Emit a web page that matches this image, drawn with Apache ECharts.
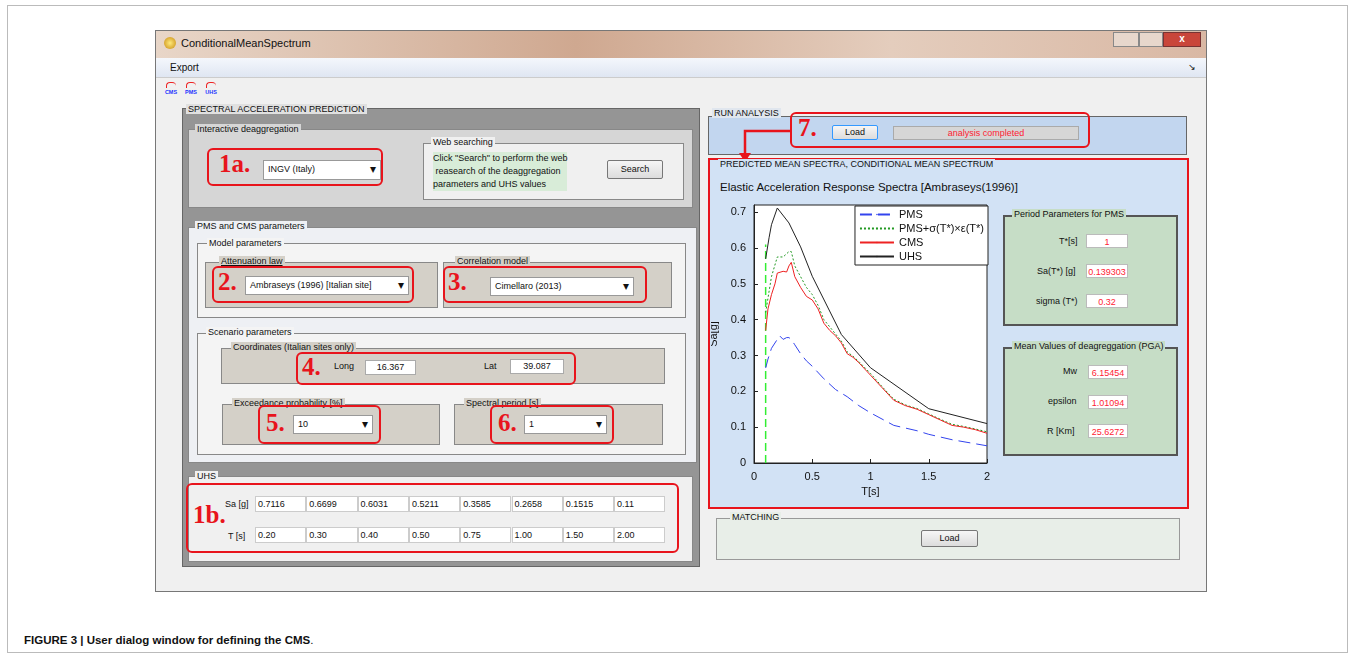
<!DOCTYPE html>
<html lang="en">
<head>
<meta charset="UTF-8">
<title>ConditionalMeanSpectrum</title>
<script src="https://cdn.jsdelivr.net/npm/echarts@6/dist/echarts.min.js"></script>
<style>
  body { margin:0; width:1356px; height:660px; background:#fff; font-family:"Liberation Sans", Arial, sans-serif; font-size:9px; color:#111; position:relative; overflow:hidden; }
  .a { position:absolute; box-sizing:border-box; }
  .grp { border:1px solid #888; }
  .red { border:2.5px solid #e8141c; border-radius:6px; }
  .num { font-family:"Liberation Serif", serif; font-weight:bold; font-size:25px; color:#e8141c; position:absolute; }
  .sel { background:#fff; border:1px solid #999; font-size:9px; padding:3px 4px; }
  .sel:after { content:"\25BE"; position:absolute; right:4px; top:1px; font-size:12px; }
  .btn { background:linear-gradient(#f6f6f6,#dcdcdc); border:1px solid #777; border-radius:2px; text-align:center; font-size:9px; }
  .inp { background:#fff; border:1px solid #aaa; text-align:center; font-size:9px; line-height:13px; }
  .rin { background:#fff; border:1px solid #bbb; color:#f23; text-align:center; font-size:9px; line-height:14px; }
  .ico { position:absolute; top:80px; width:14px; height:16px; font-size:5.5px; font-weight:bold; color:#23f; text-align:center; line-height:24px; }
  .ico:before { content:""; position:absolute; left:2px; top:2px; width:9px; height:5px; border-top:1.5px solid #e22; border-left:1px solid #e22; border-radius:4px 4px 0 0; }
</style>
</head>
<body>
<div class="a" style="left:7px;top:5px;width:1341px;height:648px;border:1px solid #bbb;"></div>

<!-- window -->
<div class="a" style="left:155px;top:30px;width:1052px;height:562px;background:#f0f0f0;border:1px solid #777;"></div>
<div class="a" style="left:156px;top:31px;width:1050px;height:27px;background:linear-gradient(90deg,#e8d6c8,#cfa890 40%,#e4cdbd 70%,#d9b8a4);"></div>
<div class="a" style="left:164px;top:37px;width:12px;height:12px;border-radius:6px;background:radial-gradient(#ffe97a,#c78a10);"></div>
<div class="a" style="left:181px;top:37px;font-size:11px;">ConditionalMeanSpectrum</div>
<div class="a" style="left:1113px;top:32px;width:26px;height:15px;background:#e7d7cc;border:1px solid #888;"></div>
<div class="a" style="left:1139px;top:32px;width:24px;height:15px;background:#e7d7cc;border:1px solid #888;"></div>
<div class="a" style="left:1163px;top:32px;width:38px;height:15px;background:#c9463a;border:1px solid #733;color:#fff;text-align:center;font-weight:bold;font-size:10px;">x</div>
<div class="a" style="left:156px;top:58px;width:1050px;height:20px;background:linear-gradient(#f4f7fc,#dfe6f2);border-bottom:1px solid #ccc;"></div>
<div class="a" style="left:170px;top:62px;font-size:10px;">Export</div>
<div class="a" style="left:1188px;top:62px;font-size:9px;">&#8600;</div>
<div class="ico" style="left:164px;">CMS</div>
<div class="ico" style="left:184px;">PMS</div>
<div class="ico" style="left:204px;">UHS</div>

<!-- left panel -->
<div class="a" style="left:182px;top:108px;width:518px;height:459px;background:#959595;border:1px solid #666;"></div>
<div class="a" style="left:186px;top:104px;background:#e0e0e0;font-size:9px;padding:0 2px;">SPECTRAL ACCELERATION PREDICTION</div>

<div class="a grp" style="left:188px;top:129px;width:505px;height:79px;background:#d6d6d6;"></div>
<div class="a" style="left:195px;top:124px;background:#d6d6d6;padding:0 2px;">Interactive deaggregation</div>
<div class="a red" style="left:207px;top:148px;width:176px;height:38px;"></div>
<div class="num" style="left:219px;top:150px;">1a.</div>
<div class="a sel" style="left:263px;top:160px;width:118px;height:20px;">INGV (Italy)</div>
<div class="a grp" style="left:423px;top:143px;width:261px;height:57px;background:#f0f0f0;"></div>
<div class="a" style="left:431px;top:137px;background:#f0f0f0;padding:0 2px;">Web searching</div>
<div class="a" style="left:433px;top:152px;background:#d8ecd8;line-height:13px;">Click "Search" to perform the web<br>&nbsp;reasearch of the deaggregation<br>parameters and UHS values</div>
<div class="a btn" style="left:607px;top:160px;width:56px;height:19px;line-height:17px;">Search</div>

<div class="a grp" style="left:188px;top:227px;width:509px;height:236px;background:#eef0f4;"></div>
<div class="a" style="left:195px;top:221px;background:#eef0f4;padding:0 2px;">PMS and CMS parameters</div>
<div class="a grp" style="left:197px;top:243px;width:489px;height:75px;background:#f4f4f4;"></div>
<div class="a" style="left:207px;top:238px;background:#f4f4f4;padding:0 2px;">Model parameters</div>
<div class="a grp" style="left:205px;top:262px;width:233px;height:46px;background:#d4d0c8;"></div>
<div class="a" style="left:219px;top:256px;background:#d4d0c8;padding:0 2px;text-decoration:underline;">Attenuation law</div>
<div class="a grp" style="left:443px;top:262px;width:229px;height:46px;background:#d4d0c8;"></div>
<div class="a" style="left:455px;top:256px;background:#d4d0c8;padding:0 2px;">Correlation model</div>
<div class="a red" style="left:212px;top:266px;width:202px;height:37px;"></div>
<div class="num" style="left:218px;top:268px;">2.</div>
<div class="a sel" style="left:245px;top:276px;width:164px;height:19px;">Ambraseys (1996) [Italian site]</div>
<div class="a red" style="left:443px;top:266px;width:204px;height:37px;"></div>
<div class="num" style="left:448px;top:268px;">3.</div>
<div class="a sel" style="left:490px;top:277px;width:144px;height:19px;">Cimellaro (2013)</div>

<div class="a grp" style="left:197px;top:333px;width:489px;height:122px;background:#f4f4f4;"></div>
<div class="a" style="left:206px;top:327px;background:#f4f4f4;padding:0 2px;">Scenario parameters</div>
<div class="a grp" style="left:221px;top:348px;width:444px;height:36px;background:#d4d0c8;"></div>
<div class="a" style="left:231px;top:342px;background:#d4d0c8;padding:0 2px;">Coordinates (Italian sites only)</div>
<div class="a red" style="left:296px;top:352px;width:280px;height:33px;"></div>
<div class="num" style="left:302px;top:353px;">4.</div>
<div class="a" style="left:334px;top:361px;">Long</div>
<div class="a inp" style="left:365px;top:360px;width:51px;height:15px;">16.367</div>
<div class="a" style="left:484px;top:361px;">Lat</div>
<div class="a inp" style="left:510px;top:359px;width:54px;height:15px;">39.087</div>

<div class="a grp" style="left:222px;top:404px;width:218px;height:41px;background:#d4d0c8;"></div>
<div class="a" style="left:232px;top:398px;background:#d4d0c8;padding:0 2px;">Exceedance probability [%]</div>
<div class="a red" style="left:258px;top:405px;width:123px;height:39px;"></div>
<div class="num" style="left:266px;top:409px;">5.</div>
<div class="a sel" style="left:293px;top:415px;width:80px;height:19px;">10</div>
<div class="a grp" style="left:454px;top:404px;width:209px;height:41px;background:#d4d0c8;"></div>
<div class="a" style="left:464px;top:398px;background:#d4d0c8;padding:0 2px;">Spectral period [s]</div>
<div class="a red" style="left:490px;top:405px;width:124px;height:39px;"></div>
<div class="num" style="left:498px;top:409px;">6.</div>
<div class="a sel" style="left:524px;top:415px;width:83px;height:19px;">1</div>

<div class="a grp" style="left:188px;top:476px;width:505px;height:86px;background:#f0f0f0;"></div>
<div class="a" style="left:195px;top:471px;background:#f0f0f0;padding:0 2px;">UHS</div>
<div class="a red" style="left:186px;top:483px;width:493px;height:70px;"></div>
<div class="num" style="left:193px;top:501px;">1b.</div>
<div class="a" style="left:225px;top:499px;">Sa [g]</div>
<div class="a" style="left:228px;top:531px;">T [s]</div>
<div id="saRow"></div>
<div id="tRow"></div>

<!-- right panels -->
<div class="a" style="left:708px;top:116px;width:479px;height:39px;background:#c2d6ef;border:1px solid #666;"></div>
<div class="a" style="left:712px;top:108px;background:#e0e6ee;padding:0 2px;">RUN ANALYSIS</div>
<div class="a red" style="left:790px;top:112px;width:300px;height:36px;"></div>
<div class="num" style="left:798px;top:114px;">7.</div>
<div class="a btn" style="left:832px;top:125px;width:46px;height:15px;line-height:13px;border-color:#39f;">Load</div>
<div class="a" style="left:893px;top:126px;width:186px;height:14px;background:#d6d6d6;border:1px solid #aaa;color:#f23;text-align:center;line-height:12px;">analysis completed</div>
<svg class="a" style="left:735px;top:125px;" width="60" height="40">
  <polyline points="56,6 10,6 10,30" fill="none" stroke="#e8141c" stroke-width="2.5"/>
  <polygon points="4,28 16,28 10,37" fill="#e8141c"/>
</svg>

<div class="a" style="left:708px;top:158px;width:481px;height:351px;background:#d2e2f5;border:2.5px solid #e8141c;"></div>
<div class="a" style="left:718px;top:159px;background:#d2e2f5;padding:0 2px;">PREDICTED MEAN SPECTRA, CONDITIONAL MEAN SPECTRUM</div>
<div class="a" style="left:720px;top:181px;font-size:11.5px;">Elastic Acceleration Response Spectra [Ambraseys(1996)]</div>
<div id="chart" class="a" style="left:711px;top:196px;width:290px;height:304px;"></div>

<div class="a" style="left:1003px;top:215px;width:175px;height:111px;background:#c6ddc6;border:2px solid #555;"></div>
<div class="a" style="left:1012px;top:209px;background:#c6ddc6;padding:0 2px;">Period Parameters for PMS</div>
<div class="a" style="left:1059px;top:236px;">T*[s]</div>
<div class="a rin" style="left:1086px;top:234px;width:42px;height:14px;">1</div>
<div class="a" style="left:1037px;top:266px;">Sa(T*) [g]</div>
<div class="a rin" style="left:1086px;top:264px;width:42px;height:14px;">0.139303</div>
<div class="a" style="left:1036px;top:296px;">sigma (T*)</div>
<div class="a rin" style="left:1086px;top:294px;width:42px;height:14px;">0.32</div>

<div class="a" style="left:1003px;top:347px;width:175px;height:109px;background:#c6ddc6;border:2px solid #555;"></div>
<div class="a" style="left:1012px;top:341px;background:#c6ddc6;padding:0 2px;">Mean Values of deagreggation (PGA)</div>
<div class="a" style="left:1063px;top:366px;">Mw</div>
<div class="a rin" style="left:1088px;top:365px;width:40px;height:14px;">6.15454</div>
<div class="a" style="left:1048px;top:396px;">epsilon</div>
<div class="a rin" style="left:1088px;top:395px;width:40px;height:14px;">1.01094</div>
<div class="a" style="left:1047px;top:426px;">R [Km]</div>
<div class="a rin" style="left:1088px;top:424px;width:40px;height:14px;">25.6272</div>

<div class="a" style="left:716px;top:518px;width:464px;height:42px;background:#e8eee8;border:1px solid #999;"></div>
<div class="a" style="left:730px;top:512px;background:#e8eee8;padding:0 2px;">MATCHING</div>
<div class="a btn" style="left:921px;top:530px;width:57px;height:17px;line-height:15px;">Load</div>

<div class="a" style="left:24px;top:634px;font-size:11.5px;"><b>FIGURE 3 | User dialog window for defining the CMS</b>.</div>

<script type="text/javascript">
    // UHS table
    var uhsSa = ['0.7116', '0.6699', '0.6031', '0.5211', '0.3585', '0.2658', '0.1515', '0.11'];
    var uhsT = ['0.20', '0.30', '0.40', '0.50', '0.75', '1.00', '1.50', '2.00'];

    // spectra curves [T, Sa]
    var uhsData = [[0.1,0.57],[0.13,0.63],[0.15,0.665],[0.2,0.7116],[0.3,0.6699],[0.4,0.6031],[0.5,0.5211],[0.75,0.3585],[1.0,0.2658],[1.5,0.1515],[2.0,0.11]];
    var cmsData = [[0.1,0.37],[0.12,0.43],[0.15,0.47],[0.18,0.5],[0.2,0.53],[0.25,0.535],[0.28,0.533],[0.3,0.55],[0.32,0.56],[0.35,0.52],[0.4,0.49],[0.45,0.465],[0.5,0.455],[0.55,0.43],[0.6,0.39],[0.65,0.37],[0.7,0.355],[0.75,0.335],[0.8,0.305],[0.85,0.295],[0.9,0.28],[1.0,0.245],[1.1,0.21],[1.2,0.175],[1.3,0.16],[1.4,0.15],[1.5,0.135],[1.6,0.12],[1.7,0.105],[1.8,0.1],[1.9,0.093],[2.0,0.083]];
    var pmsEpsData = [[0.1,0.42],[0.12,0.46],[0.15,0.52],[0.2,0.575],[0.25,0.575],[0.3,0.59],[0.32,0.59],[0.35,0.55],[0.4,0.52],[0.45,0.49],[0.5,0.47],[0.55,0.44],[0.6,0.4],[0.65,0.38],[0.7,0.36],[0.75,0.34],[0.8,0.31],[0.85,0.298],[0.9,0.283],[1.0,0.25],[1.1,0.213],[1.2,0.178],[1.3,0.162],[1.4,0.152],[1.5,0.137],[1.6,0.122],[1.7,0.108],[1.8,0.102],[1.9,0.095],[2.0,0.087]];
    var pmsData = [[0.1,0.265],[0.12,0.29],[0.15,0.32],[0.2,0.345],[0.22,0.355],[0.25,0.345],[0.28,0.35],[0.3,0.35],[0.32,0.345],[0.35,0.33],[0.4,0.305],[0.45,0.285],[0.5,0.27],[0.6,0.235],[0.7,0.205],[0.8,0.185],[0.9,0.16],[1.0,0.14],[1.2,0.105],[1.4,0.09],[1.5,0.08],[1.7,0.065],[2.0,0.048]];
    var tStarLine = [[0.1,0],[0.1,0.61]];

    function fillRow(id, vals, top) {
        var html = '';
        for (var i = 0; i < vals.length; i++) {
            html += '<div class="a" style="left:' + (255 + i * 51.3) + 'px;top:' + top + 'px;width:51.3px;height:16px;background:#fff;border:1px solid #ccc;line-height:14px;padding-left:2px;">' + vals[i] + '</div>';
        }
        document.getElementById(id).innerHTML = html;
    }
    fillRow('saRow', uhsSa, 496);
    fillRow('tRow', uhsT, 527);

    var chart = echarts.init(document.getElementById('chart'));
    var axisText = {color: '#111', fontSize: 11, fontFamily: 'Liberation Sans'};
    var option = {
        animation: false,
        grid: {left: 43, top: 9, width: 233, height: 258, outerBoundsMode: 'none', containLabel: false,
            backgroundColor: '#fff', show: true, borderColor: '#222', borderWidth: 1},
        legend: {
            right: 13, top: 10, orient: 'vertical', itemWidth: 34, itemHeight: 2, itemGap: 3,
            backgroundColor: '#fff', borderColor: '#222', borderWidth: 1, padding: [3, 4, 3, 4],
            textStyle: {fontSize: 11, color: '#111', fontFamily: 'Liberation Sans'},
            data: ['PMS', 'PMS+σ(T*)×ε(T*)', 'CMS', 'UHS']
        },
        xAxis: {
            type: 'value', min: 0, max: 2, interval: 0.5,
            name: 'T[s]', nameLocation: 'middle', nameGap: 16, nameTextStyle: axisText,
            axisLine: {lineStyle: {color: '#222'}}, axisTick: {inside: true, length: 4},
            axisLabel: axisText, splitLine: {show: false}
        },
        yAxis: {
            type: 'value', min: 0, max: 0.72, interval: 0.1,
            name: 'Sa[g]', nameLocation: 'middle', nameGap: 31, nameTextStyle: axisText,
            axisLine: {lineStyle: {color: '#222'}}, axisTick: {inside: true, length: 4},
            axisLabel: {color: '#111', fontSize: 11, fontFamily: 'Liberation Sans', showMaxLabel: false,
                formatter: function (v) { return v === 0 ? '0' : v.toFixed(1); }},
            splitLine: {show: false}
        },
        series: [
            {name: 'PMS', type: 'line', data: pmsData, symbol: 'none', z: 3,
                lineStyle: {color: '#3344ee', width: 1, type: [12, 6]}, itemStyle: {color: '#3344ee'}},
            {name: 'PMS+σ(T*)×ε(T*)', type: 'line', data: pmsEpsData, symbol: 'none', z: 4,
                lineStyle: {color: '#229922', width: 1, type: [2, 2]}, itemStyle: {color: '#229922'}},
            {name: 'CMS', type: 'line', data: cmsData, symbol: 'none', z: 5,
                lineStyle: {color: '#ee2222', width: 1}, itemStyle: {color: '#ee2222'}},
            {name: 'UHS', type: 'line', data: uhsData, symbol: 'none', z: 5,
                lineStyle: {color: '#222', width: 1}, itemStyle: {color: '#222'}},
            {name: 'T*', type: 'line', data: tStarLine, symbol: 'none', z: 2,
                lineStyle: {color: '#33ee33', width: 1.5, type: [8, 4]}}
        ]
    };
    chart.setOption(option);
</script>
</body>
</html>
